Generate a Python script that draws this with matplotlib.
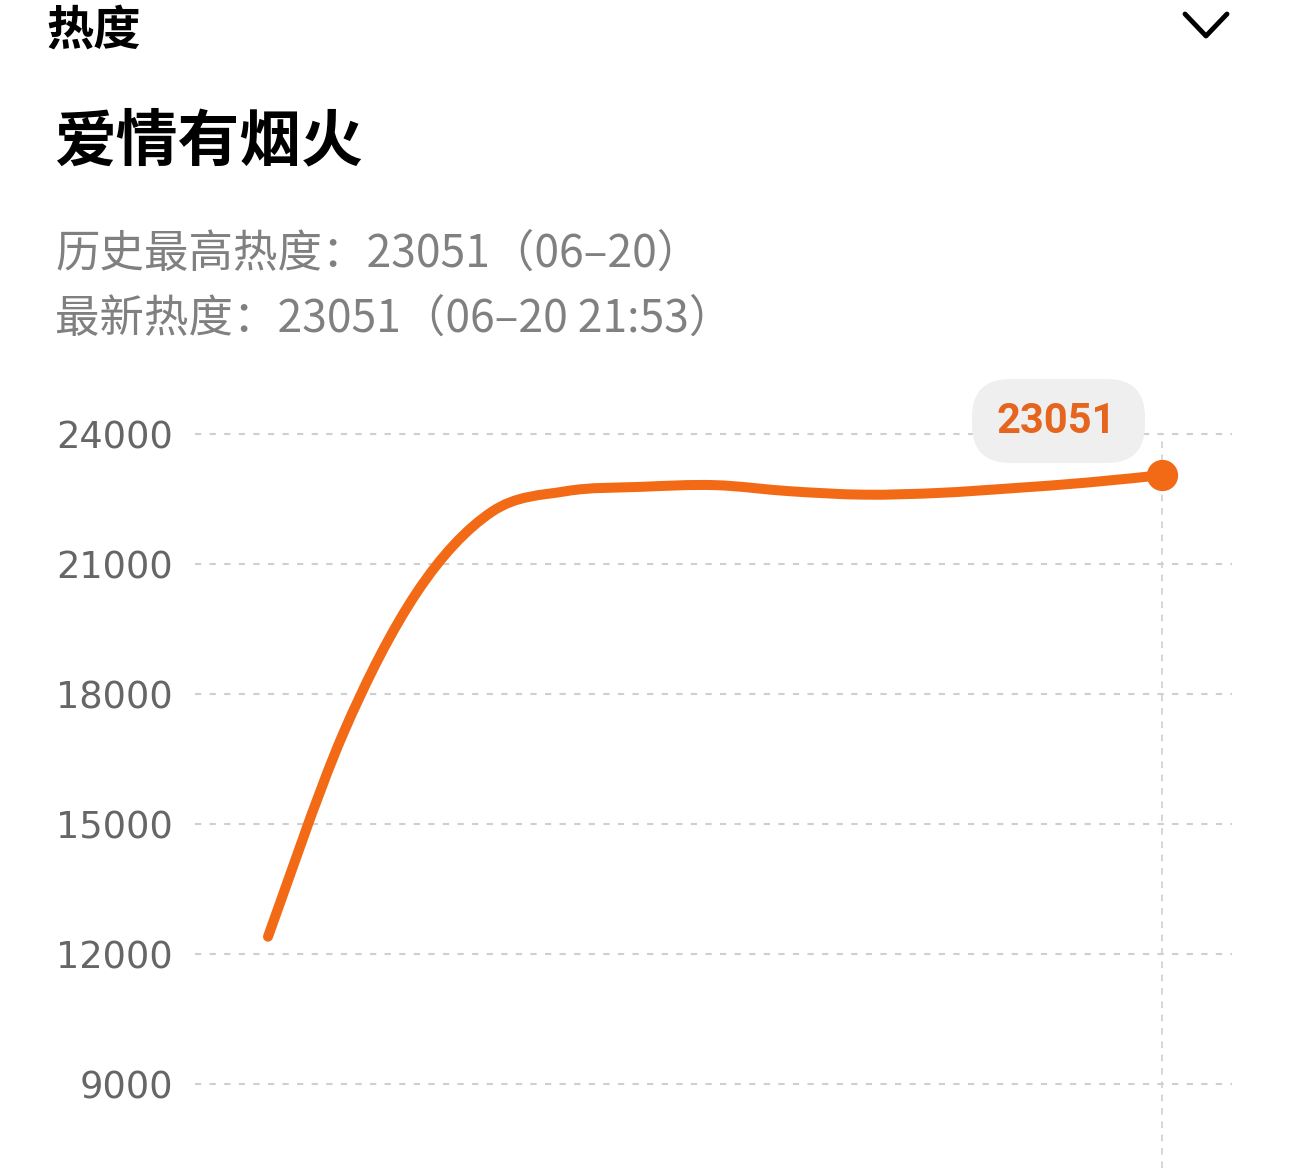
import numpy as np
import matplotlib
matplotlib.use('Agg')
import matplotlib.pyplot as plt
from matplotlib.path import Path
from matplotlib.patches import PathPatch, FancyBboxPatch
from matplotlib.lines import Line2D

plt.rcParams['font.family'] = ['Noto Sans CJK SC', 'DejaVu Sans']

# heat readings (one per sample), last one is 06-20 21:53
samples = list(range(13))
heat = [12400, 17050, 20350, 22200, 22680, 22780, 22820, 22680, 22600, 22640, 22750, 22880, 23051]
y_ticks = [9000, 12000, 15000, 18000, 21000, 24000]

header = '热度'
title = '爱情有烟火'
line_max = '历史最高热度：23051（06–20）'
line_new = '最新热度：23051（06–20 21:53）'
peak_label = '23051'

ORANGE = '#F26A15'
W, H = 1290, 1168


def fx(px):
    return px / W


def fy(py):
    return 1 - py / H


def smooth_path(xs, ys):
    # catmull-rom through the points, drawn as cubic beziers
    pts = np.column_stack([xs, ys]).astype(float)
    ext = np.vstack([pts[0], pts, pts[-1]])
    verts = [pts[0]]
    codes = [Path.MOVETO]
    for i in range(1, len(ext) - 2):
        p0, p1, p2, p3 = ext[i - 1], ext[i], ext[i + 1], ext[i + 2]
        verts += [p1 + (p2 - p0) / 6, p2 - (p3 - p1) / 6, p2]
        codes += [Path.CURVE4] * 3
    return Path(verts, codes)


fig = plt.figure(figsize=(W / 100, H / 100), dpi=100)
ax = fig.add_axes([fx(195), 0, fx(1232) - fx(195), 798 / H])
ax.set_xlim(-0.98, 12.94)
ax.set_ylim(7062, 25477)

for v in y_ticks:
    ax.axhline(v, color='#cfcfcf', lw=1.5, dashes=(3, 4), zorder=1)
ax.vlines(samples[-1], 7062, y_ticks[-1], colors='#d0d0d0', lw=1.2,
          linestyles=(0, (4, 4)), zorder=1)

curve = PathPatch(smooth_path(samples, heat), fill=False, edgecolor=ORANGE,
                  lw=7.2, capstyle='round', joinstyle='round', zorder=3)
ax.add_patch(curve)
ax.plot(samples[-1], heat[-1], 'o', ms=21.5, color=ORANGE, zorder=4, clip_on=False)

ax.set_yticks(y_ticks)
ax.set_yticklabels([str(v) for v in y_ticks], family='DejaVu Sans')
ax.tick_params(axis='y', length=0, pad=16, labelsize=26.5, labelcolor='#666666')
ax.set_xticks([])
for s in ax.spines.values():
    s.set_visible(False)

# header area
fig.text(fx(46), fy(31), header, fontsize=34, weight='bold', va='center', ha='left')
fig.add_artist(Line2D([fx(1185), fx(1206), fx(1227)], [fy(14), fy(36), fy(14)],
                      color='black', lw=3.5, solid_capstyle='round',
                      solid_joinstyle='round'))
fig.text(fx(54), fy(142), title, fontsize=44.5, weight='bold', va='center', ha='left')
fig.text(fx(55), fy(254), line_max, fontsize=32, color='#808080', va='center', ha='left')
fig.text(fx(55), fy(319), line_new, fontsize=32, color='#808080', va='center', ha='left')

# tooltip pill
pill = FancyBboxPatch((9.72, (H - 463) / 100), 1.73, 0.84,
                      boxstyle='round,pad=0,rounding_size=0.38',
                      transform=fig.dpi_scale_trans, fc='#EFEFEF', ec='none')
fig.add_artist(pill)
fig.text(fx(1056), fy(422), peak_label, color='#E5651E', fontsize=30, weight='bold',
         family=['Roboto', 'DejaVu Sans'], ha='center', va='center')

fig.savefig('out.png', dpi=100, facecolor='white')
